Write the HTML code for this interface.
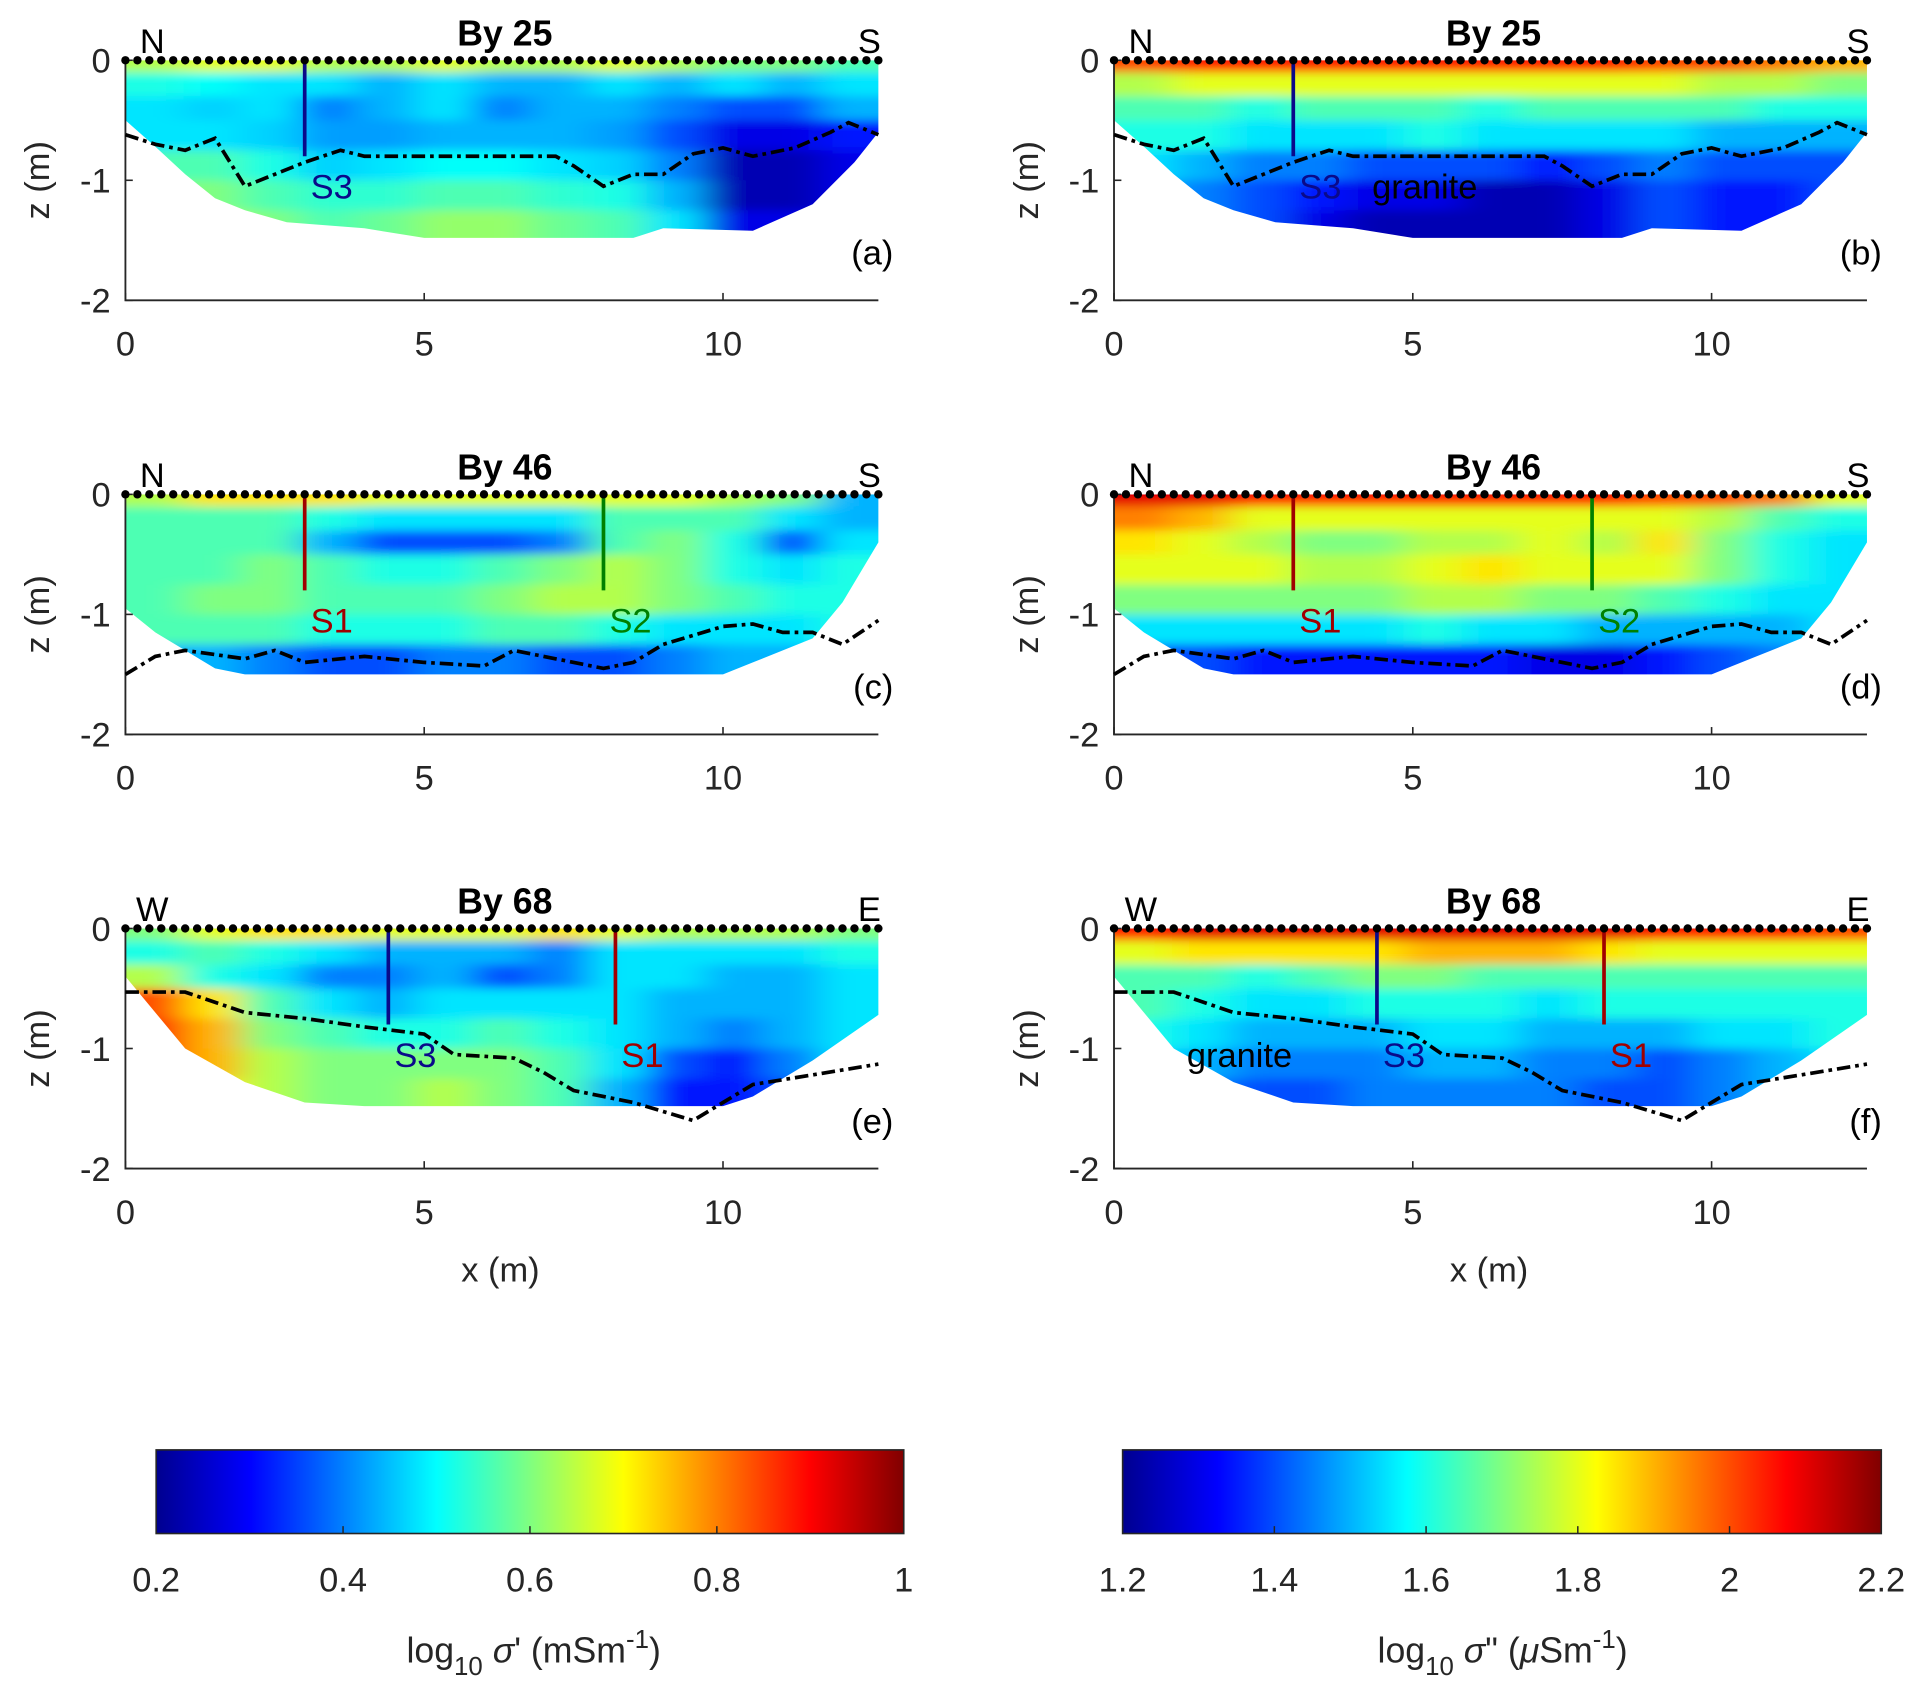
<!DOCTYPE html>
<html><head><meta charset="utf-8"><style>
html,body{margin:0;padding:0;background:#fff;}
svg text{font-family:"Liberation Sans",sans-serif;}
</style></head><body>
<svg id="fig" width="1928" height="1702" viewBox="0 0 1568 1384" preserveAspectRatio="none" xmlns="http://www.w3.org/2000/svg">
<defs>
<filter id="blur" x="-10%" y="-10%" width="120%" height="120%"><feGaussianBlur stdDeviation="15 4"/></filter>
<linearGradient id="jetgrad" x1="0" x2="1" y1="0" y2="0">
<stop offset="0" stop-color="#00008f"/><stop offset="0.125" stop-color="#0000ff"/><stop offset="0.375" stop-color="#00ffff"/><stop offset="0.625" stop-color="#ffff00"/><stop offset="0.875" stop-color="#ff0000"/><stop offset="1" stop-color="#800000"/>
</linearGradient>
</defs>
</svg>
<script>
// ---- data ----
const colEdges = 13; // number of columns over 0..12.6 m
const rowEdges = [0,0.1,0.3,0.5,0.75,1.0,1.25,1.5];
const valsA = [
[.55,.6,.6,.55,.55,.6,.55,.55,.6,.55,.5,.5,.45],
[.4,.38,.35,.35,.3,.35,.3,.3,.35,.3,.35,.3,.35],
[.35,.33,.35,.25,.3,.35,.25,.3,.3,.25,.2,.2,.3],
[.35,.35,.33,.28,.28,.3,.3,.3,.28,.2,.1,.1,.15],
[.45,.45,.4,.33,.35,.38,.38,.35,.33,.25,.05,.05,.1],
[.5,.5,.45,.42,.42,.45,.45,.42,.4,.3,.05,.05,.1],
[.55,.55,.5,.45,.48,.52,.52,.48,.45,.35,.1,.1,.1]];
const valsB = [
[.8,.85,.85,.85,.85,.85,.85,.85,.85,.8,.8,.75,.7],
[.55,.6,.6,.6,.6,.6,.6,.6,.6,.6,.55,.55,.5],
[.45,.45,.4,.45,.45,.45,.4,.45,.45,.45,.45,.4,.4],
[.4,.4,.35,.35,.35,.4,.35,.35,.35,.35,.3,.3,.3],
[.35,.3,.25,.25,.2,.2,.2,.15,.2,.25,.2,.2,.2],
[.3,.25,.2,.15,.1,.1,.05,.05,.1,.2,.15,.15,.2],
[.3,.25,.2,.1,.05,.05,.05,.05,.1,.2,.15,.15,.2]];
const valsC = [
[.55,.65,.65,.65,.6,.6,.6,.6,.6,.6,.55,.5,.3],
[.45,.45,.45,.4,.35,.35,.35,.35,.45,.45,.45,.35,.3],
[.45,.45,.45,.3,.2,.2,.2,.25,.45,.5,.4,.2,.35],
[.45,.45,.5,.45,.4,.4,.45,.5,.55,.5,.4,.35,.4],
[.45,.5,.5,.45,.45,.45,.5,.55,.55,.5,.45,.4,.4],
[.45,.45,.45,.4,.4,.4,.45,.45,.4,.35,.35,.35,.4],
[.3,.3,.25,.2,.2,.25,.25,.2,.2,.25,.3,.3,.35]];
const valsD = [
[.9,.9,.85,.85,.85,.85,.85,.85,.85,.8,.8,.75,.6],
[.75,.7,.6,.6,.6,.6,.6,.6,.6,.6,.55,.45,.4],
[.65,.6,.55,.5,.5,.55,.55,.6,.55,.65,.5,.4,.35],
[.6,.6,.6,.55,.55,.6,.65,.6,.6,.6,.5,.4,.35],
[.5,.5,.5,.5,.5,.55,.55,.5,.5,.45,.4,.35,.35],
[.35,.35,.35,.35,.35,.4,.35,.35,.3,.3,.3,.3,.35],
[.2,.2,.15,.15,.15,.15,.15,.1,.1,.15,.2,.25,.3]];
const valsE = [
[.5,.6,.65,.65,.6,.6,.6,.65,.6,.55,.55,.55,.5],
[.4,.45,.4,.35,.3,.3,.3,.25,.35,.35,.35,.35,.4],
[.55,.4,.35,.25,.25,.3,.2,.25,.35,.35,.3,.3,.35],
[.8,.65,.45,.35,.3,.35,.35,.35,.35,.3,.3,.3,.35],
[.85,.7,.5,.45,.4,.4,.45,.4,.35,.3,.25,.3,.35],
[.85,.7,.55,.5,.5,.5,.5,.45,.35,.2,.15,.25,.35],
[.8,.65,.55,.5,.5,.55,.5,.45,.3,.15,.15,.2,.3]];
const valsF = [
[.85,.9,.9,.9,.9,.9,.9,.9,.9,.85,.85,.85,.8],
[.6,.65,.65,.65,.65,.7,.7,.7,.65,.6,.6,.6,.6],
[.45,.45,.4,.45,.5,.5,.45,.45,.45,.45,.45,.45,.45],
[.45,.4,.35,.35,.4,.4,.4,.35,.4,.4,.4,.4,.4],
[.4,.35,.3,.3,.3,.35,.35,.3,.3,.3,.35,.35,.4],
[.35,.3,.25,.25,.25,.3,.3,.25,.25,.2,.25,.3,.35],
[.3,.25,.2,.2,.25,.25,.25,.25,.2,.2,.25,.3,.35]];
const extent1 = [[0,0.5],[0.5,0.72],[1,0.95],[1.5,1.15],[2,1.25],[2.7,1.35],[4,1.4],[5,1.48],[8.5,1.48],[9,1.4],[10.5,1.42],[11.5,1.2],[12.2,0.85],[12.6,0.6]];
const extent2 = [[0,0.95],[0.5,1.15],[1,1.3],[1.5,1.45],[2,1.5],[10,1.5],[10.5,1.4],[11.5,1.2],[12,0.9],[12.6,0.4]];
const extent3 = [[0,0.4],[0.5,0.7],[1,1.0],[2,1.28],[3,1.45],[4,1.48],[10,1.48],[10.5,1.4],[11.5,1.1],[12.6,0.72]];
const bound1 = [[0,-0.62],[0.5,-0.7],[1,-0.75],[1.5,-0.65],[2,-1.05],[2.5,-0.95],[3,-0.85],[3.6,-0.75],[4,-0.8],[6,-0.8],[7.2,-0.8],[7.5,-0.88],[8,-1.05],[8.5,-0.95],[9,-0.95],[9.5,-0.78],[10,-0.73],[10.5,-0.8],[11.2,-0.73],[11.8,-0.6],[12.1,-0.52],[12.6,-0.62]];
const bound2 = [[0,-1.5],[0.5,-1.35],[1,-1.3],[2,-1.37],[2.5,-1.3],[3,-1.4],[4,-1.35],[5,-1.4],[6,-1.43],[6.5,-1.3],[7,-1.35],[8,-1.45],[8.5,-1.4],[9,-1.25],[10,-1.1],[10.5,-1.08],[11,-1.15],[11.5,-1.15],[12,-1.25],[12.6,-1.05]];
const bound3 = [[0,-0.53],[1,-0.53],[2,-0.7],[3,-0.75],[4,-0.82],[5,-0.88],[5.5,-1.05],[6.5,-1.08],[7,-1.2],[7.5,-1.35],[8.5,-1.45],[9.5,-1.6],[10,-1.45],[10.5,-1.3],[11.5,-1.22],[12.6,-1.13]];
const xTicks = [0,5,10];
const zTicks = [0,-1,-2];
const cbTicks1 = ["0.2","0.4","0.6","0.8","1"];
const cbTicks2 = ["1.2","1.4","1.6","1.8","2","2.2"];

// ---- drawing ----
const NS="http://www.w3.org/2000/svg";
const svg=document.getElementById('fig');
function mk(tag,attrs,parent){const e=document.createElementNS(NS,tag);for(const k in attrs)e.setAttribute(k,attrs[k]);(parent||svg).appendChild(e);return e;}
function jet(t){t=Math.max(0,Math.min(1,t));
 const r=Math.max(0,Math.min(1,Math.min(4*t-1.5,-4*t+4.5)));
 const g=Math.max(0,Math.min(1,Math.min(4*t-0.5,-4*t+3.5)));
 const b=Math.max(0,Math.min(1,Math.min(4*t+0.5,-4*t+2.5)));
 return `rgb(${Math.round(r*255)},${Math.round(g*255)},${Math.round(b*255)})`;}
const PXM=48.6, PZM=97.6;
const panels=[
 {id:'a',x0:102,y0:49,vals:valsA,ext:extent1,bd:bound1,title:'By 25',l:'N',r:'S',bores:[{x:3,c:'#0a0a8a',lab:'S3'}],extra:[]},
 {id:'b',x0:906,y0:49,vals:valsB,ext:extent1,bd:bound1,title:'By 25',l:'N',r:'S',bores:[{x:3,c:'#0a0a8a',lab:'S3'}],extra:[{x:5.2,t:'granite'}]},
 {id:'c',x0:102,y0:402,vals:valsC,ext:extent2,bd:bound2,title:'By 46',l:'N',r:'S',bores:[{x:3,c:'#a00000',lab:'S1'},{x:8,c:'#008000',lab:'S2'}],extra:[]},
 {id:'d',x0:906,y0:402,vals:valsD,ext:extent2,bd:bound2,title:'By 46',l:'N',r:'S',bores:[{x:3,c:'#a00000',lab:'S1'},{x:8,c:'#008000',lab:'S2'}],extra:[]},
 {id:'e',x0:102,y0:755,vals:valsE,ext:extent3,bd:bound3,title:'By 68',l:'W',r:'E',bores:[{x:4.4,c:'#0a0a8a',lab:'S3'},{x:8.2,c:'#a00000',lab:'S1'}],extra:[]},
 {id:'f',x0:906,y0:755,vals:valsF,ext:extent3,bd:bound3,title:'By 68',l:'W',r:'E',bores:[{x:4.4,c:'#0a0a8a',lab:'S3'},{x:8.2,c:'#a00000',lab:'S1'}],extra:[{x:2.1,t:'granite'}]}
];
panels.forEach(p=>{
 const X=x=>p.x0+x*PXM, Z=z=>p.y0-z*PZM;
 const g=mk('g',{});
 
 
 const cp=mk('clipPath',{id:'clip'+p.id},g);
 let pts=[[0,0]].concat(p.ext).concat([[12.6,0]]);
 mk('polygon',{points:pts.map(q=>X(q[0])+','+Z(-q[1])).join(' ')},cp);
 const hm=mk('g',{'clip-path':`url(#clip${p.id})`},g);
 
 
 const inner=mk('g',{filter:'url(#blur)'},hm);
 const cw=12.6/colEdges;
 p.vals.forEach((row,ri)=>{row.forEach((v,ci)=>{
  let xa=ci*cw, xb=(ci+1)*cw; if(ci==0)xa=-1; if(ci==colEdges-1)xb=13.6;
  let za=rowEdges[ri], zb=rowEdges[ri+1]; if(ri==0)za=-0.3; if(ri==p.vals.length-1)zb=1.9;
  const c=mk('rect',{x:X(xa),y:Z(-za),width:X(xb)-X(xa)+0.5,height:Z(-zb)-Z(-za)+0.5,fill:jet(v)},inner);
  
  
 });});
 const ax=mk('path',{d:`M${X(0)},${Z(0)-2} L${X(0)},${Z(-2)} L${X(12.6)},${Z(-2)}`,stroke:'#262626','stroke-width':1.5,fill:'none'},g);
 
 
 xTicks.forEach(t=>{
  mk('line',{x1:X(t),x2:X(t),y1:Z(-2),y2:Z(-2)-6,stroke:'#262626','stroke-width':1.3},g);
  const tx=mk('text',{x:X(t),y:Z(-2)+45,'font-size':28,'text-anchor':'middle',fill:'#262626'},g);tx.textContent=t;
  
  
 });
 zTicks.forEach(t=>{
  mk('line',{x1:X(0),x2:X(0)+6,y1:Z(t),y2:Z(t),stroke:'#262626','stroke-width':1.3},g);
  const tx=mk('text',{x:X(0)-12,y:Z(t)+10,'font-size':28,'text-anchor':'end',fill:'#262626'},g);tx.textContent=t==0?'0':'-'+Math.abs(t);
  
  
 });
 const yl=mk('text',{x:0,y:0,'font-size':28,'text-anchor':'middle',fill:'#262626',transform:`translate(${p.x0-62},${Z(-1)}) rotate(-90)`},g);yl.textContent='z (m)';
 
 
 const bl=mk('polyline',{points:p.bd.map(q=>X(q[0])+','+Z(q[1])).join(' '),fill:'none',stroke:'#000','stroke-width':3,'stroke-dasharray':'11 4 3 4'},g);
 
 
 p.bores.forEach(b=>{
  const l=mk('line',{x1:X(b.x),x2:X(b.x),y1:Z(0),y2:Z(-0.8),stroke:b.c,'stroke-width':3},g);
  
  
  const t=mk('text',{x:X(b.x)+22,y:Z(-1.05)+10,'font-size':28,'text-anchor':'middle',fill:b.c},g);t.textContent=b.lab;
  
  
 });
 p.extra.forEach(e=>{
  const t=mk('text',{x:X(e.x),y:Z(-1.05)+10,'font-size':28,'text-anchor':'middle',fill:'#000'},g);t.textContent=e.t;
  
  
 });
 for(let i=0;i<=63;i++){
  const d=mk('circle',{cx:X(i*0.2),cy:Z(0),r:3.4,fill:'#000'},g);
  
  
 }
 const tt=mk('text',{x:X(6.35),y:p.y0-12,'font-size':29,'font-weight':'bold','text-anchor':'middle',fill:'#000'},g);tt.textContent=p.title;
 
 
 const ln=mk('text',{x:X(0.45),y:p.y0-6,'font-size':28,'text-anchor':'middle',fill:'#000'},g);ln.textContent=p.l;
 
 
 const rn=mk('text',{x:X(12.45),y:p.y0-6,'font-size':28,'text-anchor':'middle',fill:'#000'},g);rn.textContent=p.r;
 
 
 const pl=mk('text',{x:X(12.85),y:Z(-1.6)+10,'font-size':28,'text-anchor':'end',fill:'#000'},g);pl.textContent='('+p.id+')';
 
 
});
[[407,'x-axis-title-left'],[1211,'x-axis-title-right']].forEach(a=>{
 const t=mk('text',{x:a[0],y:1042,'font-size':28,'text-anchor':'middle',fill:'#262626'});t.textContent='x (m)';
 
 
});
function colorbar(x0,x1,labels,name){
 const g=mk('g',{});
 
 
 mk('rect',{x:x0,y:1179,width:x1-x0,height:68,fill:'url(#jetgrad)',stroke:'#262626','stroke-width':1.3},g);
 labels.forEach((l,i)=>{
  const x=x0+(x1-x0)*i/(labels.length-1);
  if(i>0&&i<labels.length-1)mk('line',{x1:x,x2:x,y1:1247,y2:1241,stroke:'#262626','stroke-width':1.2},g);
  const t=mk('text',{x:x,y:1294,'font-size':28,'text-anchor':'middle',fill:'#262626'},g);t.textContent=l;
  
  
 });
 return g;
}
colorbar(127,735,cbTicks1,'colorbar-real');
colorbar(913,1530,cbTicks2,'colorbar-imag');
const cl1=mk('text',{x:434,y:1352,'font-size':29,'text-anchor':'middle',fill:'#262626'});
cl1.innerHTML='log<tspan font-size="21" dy="10">10</tspan><tspan dy="-10"> </tspan><tspan font-style="italic">σ</tspan>\' (mSm<tspan font-size="21" dy="-12">-1</tspan><tspan dy="12">)</tspan>';


const cl2=mk('text',{x:1222,y:1352,'font-size':29,'text-anchor':'middle',fill:'#262626'});
cl2.innerHTML='log<tspan font-size="21" dy="10">10</tspan><tspan dy="-10"> </tspan><tspan font-style="italic">σ</tspan>" (<tspan font-style="italic">μ</tspan>Sm<tspan font-size="21" dy="-12">-1</tspan><tspan dy="12">)</tspan>';


</script>
</body></html>
